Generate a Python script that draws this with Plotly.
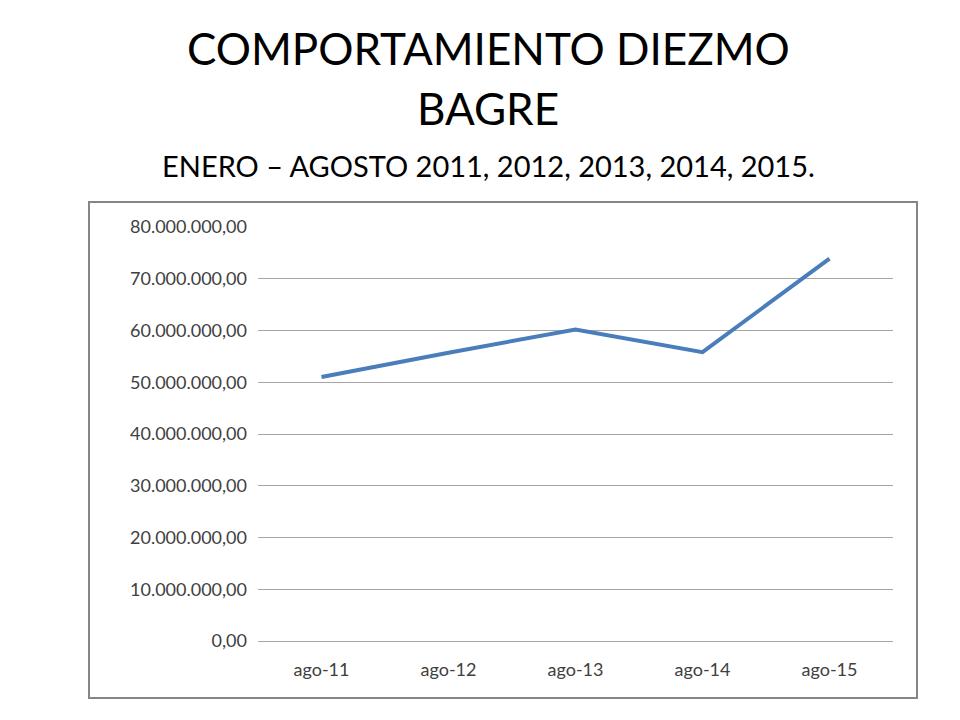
import plotly.graph_objects as go

categories = ["ago-11", "ago-12", "ago-13", "ago-14", "ago-15"]
diezmo = [51000000, 55700000, 60200000, 55800000, 73900000]
tick_vals = [0, 10000000, 20000000, 30000000, 40000000, 50000000, 60000000, 70000000, 80000000]

L, R, T, B = 250, 885, 219, 633
W, H = R - L, B - T

def px_x(x):
    return (x - L) / W

def px_y(y):
    return (B - y) / H

fig = go.Figure()
fig.add_trace(go.Scatter(x=categories, y=diezmo, mode="lines",
                         line=dict(color="#4a7ebb", width=4)))

fig.update_layout(
    width=960, height=720,
    paper_bgcolor="white", plot_bgcolor="white",
    margin=dict(l=L, r=960 - R, t=T, b=720 - B, autoexpand=False),
    separators=",.",
    showlegend=False,
    font=dict(family="Lato, sans-serif", color="#404040", size=18),
    xaxis=dict(range=[-0.5, 4.5], showgrid=False, showline=False, ticks="",
               automargin=False, ticklabelstandoff=16,
               tickfont=dict(size=18, color="#404040")),
    yaxis=dict(range=[0, 80000000], tickvals=tick_vals, tickformat=",.2f",
               showgrid=True, gridcolor="#a6a6a6", gridwidth=1,
               zeroline=True, zerolinecolor="#a6a6a6", zerolinewidth=1,
               ticks="", ticklabelstandoff=10, automargin=False,
               tickfont=dict(size=18, color="#404040")),
    shapes=[dict(type="rect", xref="paper", yref="paper",
                 x0=px_x(81), x1=px_x(909), y0=px_y(690), y1=px_y(194),
                 line=dict(color="#868686", width=2))],
    annotations=[
        dict(text="COMPORTAMIENTO DIEZMO", x=px_x(480), y=px_y(40),
             font=dict(size=44, color="black")),
        dict(text="BAGRE", x=px_x(480), y=px_y(100),
             font=dict(size=44, color="black")),
        dict(text="ENERO – AGOSTO 2011, 2012, 2013, 2014, 2015.", x=px_x(480), y=px_y(157),
             font=dict(size=29, color="black")),
    ],
)
fig.update_annotations(xref="paper", yref="paper", showarrow=False,
                       xanchor="center", yanchor="middle")

fig.write_html("out.html")
